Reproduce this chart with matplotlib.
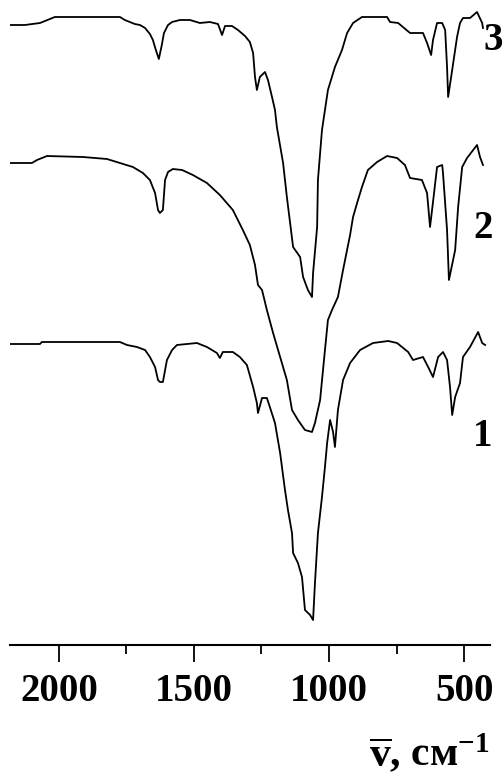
import matplotlib
matplotlib.use("Agg")
import matplotlib.pyplot as plt
from matplotlib.ticker import MultipleLocator

plt.rcParams['font.family'] = 'Liberation Serif'
plt.rcParams['font.weight'] = 'bold'
plt.rcParams['mathtext.fontset'] = 'custom'
plt.rcParams['mathtext.rm'] = 'Liberation Serif:bold'
plt.rcParams['mathtext.bf'] = 'Liberation Serif:bold'
plt.rcParams['mathtext.it'] = 'Liberation Serif:bold'

# IR spectra, transmittance in arbitrary units (curves already stacked)
wn_3 = [2181, 2126, 2070, 2015, 1774, 1756, 1719, 1700, 1681, 1663,
        1652, 1641, 1630, 1619, 1611, 1596, 1581, 1552, 1515, 1478,
        1441, 1411, 1396, 1385, 1359, 1337, 1311, 1293, 1281, 1274,
        1267, 1256, 1237, 1226, 1211, 1200, 1193, 1170, 1156, 1144,
        1133, 1107, 1096, 1078, 1063, 1059, 1044, 1041, 1026, 1004,
        978, 952, 933, 911, 878, 785, 774, 744, 700, 652,
        637, 622, 615, 600, 581, 570, 563, 559, 544, 526,
        515, 504, 478, 452, 433, 430]
t_3 = [620, 620, 622, 628, 628, 625, 621, 620, 617, 611,
       605, 595, 586, 600, 612, 620, 623, 625, 625, 622,
       623, 621, 610, 619, 619, 615, 609, 603, 592, 568,
       555, 568, 573, 565, 548, 535, 518, 482, 448, 422,
       398, 388, 368, 355, 348, 372, 418, 465, 515, 555,
       578, 595, 612, 622, 628, 628, 623, 622, 612, 612,
       602, 590, 605, 622, 622, 615, 578, 548, 575, 608,
       622, 627, 627, 633, 622, 617]

wn_2 = [2181, 2100, 2081, 2044, 1911, 1822, 1774, 1726, 1689, 1663,
        1644, 1633, 1626, 1615, 1607, 1596, 1578, 1544, 1504, 1452,
        1404, 1356, 1319, 1293, 1274, 1263, 1248, 1230, 1207, 1181,
        1156, 1137, 1115, 1089, 1063, 1052, 1033, 1015, 1004, 989,
        967, 948, 922, 911, 896, 878, 856, 822, 785, 748,
        719, 700, 656, 637, 626, 615, 600, 581, 578, 563,
        556, 533, 522, 507, 489, 452, 441, 430]
t_2 = [482, 482, 485, 489, 488, 486, 482, 478, 472, 465,
       452, 435, 432, 435, 465, 473, 476, 475, 470, 462,
       450, 435, 415, 400, 380, 360, 355, 335, 312, 288,
       265, 235, 225, 215, 213, 222, 245, 295, 325, 335,
       348, 375, 410, 428, 442, 458, 475, 483, 489, 487,
       480, 467, 465, 452, 418, 443, 478, 480, 472, 415,
       365, 395, 438, 478, 487, 500, 488, 480]

wn_1 = [2181, 2070, 2063, 1774, 1748, 1711, 1681, 1663, 1644, 1633,
        1626, 1615, 1600, 1581, 1563, 1489, 1452, 1415, 1404, 1393,
        1356, 1330, 1304, 1281, 1267, 1263, 1248, 1230, 1219, 1200,
        1181, 1163, 1152, 1137, 1133, 1115, 1100, 1089, 1070, 1059,
        1052, 1041, 1026, 1015, 1007, 996, 985, 978, 967, 948,
        922, 885, 837, 781, 748, 707, 689, 652, 633, 615,
        596, 578, 563, 552, 544, 533, 515, 504, 478, 448,
        433, 422]
t_1 = [301, 301, 303, 303, 300, 298, 295, 288, 278, 265,
       263, 263, 285, 295, 300, 302, 298, 292, 287, 293,
       293, 288, 280, 258, 242, 232, 247, 247, 238, 222,
       192, 155, 135, 112, 92, 82, 68, 35, 30, 25,
       62, 112, 148, 178, 202, 225, 213, 198, 235, 265,
       282, 295, 302, 304, 302, 293, 285, 288, 278, 268,
       288, 293, 285, 258, 230, 248, 262, 288, 298, 313,
       302, 300]

curve_labels = ['1', '2', '3']
label_wn = [433, 430, 393]
label_t = [208, 417, 605]

fig = plt.figure(figsize=(5.04, 7.76), dpi=100)
ax = fig.add_axes([10 / 504, 131 / 776, 480 / 504, 645 / 776])

for wn, t in [(wn_1, t_1), (wn_2, t_2), (wn_3, t_3)]:
    ax.plot(wn, t, color='black', lw=1.3)

for lab, x, y in zip(curve_labels, label_wn, label_t):
    ax.text(x, y, lab, fontsize=28, fontweight='bold', ha='center', va='center')

ax.set_xlim(2181, 404)
ax.set_ylim(0, 645)

for s in ['top', 'left', 'right']:
    ax.spines[s].set_visible(False)
ax.spines['bottom'].set_linewidth(1.5)
ax.set_yticks([])
ax.xaxis.set_major_locator(MultipleLocator(500))
ax.xaxis.set_minor_locator(MultipleLocator(250))
ax.tick_params(axis='x', which='major', direction='out', length=12, width=1.3,
               labelsize=28, pad=8)
ax.tick_params(axis='x', which='minor', direction='out', length=6.5, width=1.3)
for lbl in ax.get_xticklabels():
    lbl.set_fontweight('bold')

fig.text(490 / 504, 10 / 776, r'$\overline{\mathrm{v}}$, см$^{-1}$',
         fontsize=30, fontweight='bold', ha='right', va='baseline')

fig.savefig('out.png', dpi=100)
